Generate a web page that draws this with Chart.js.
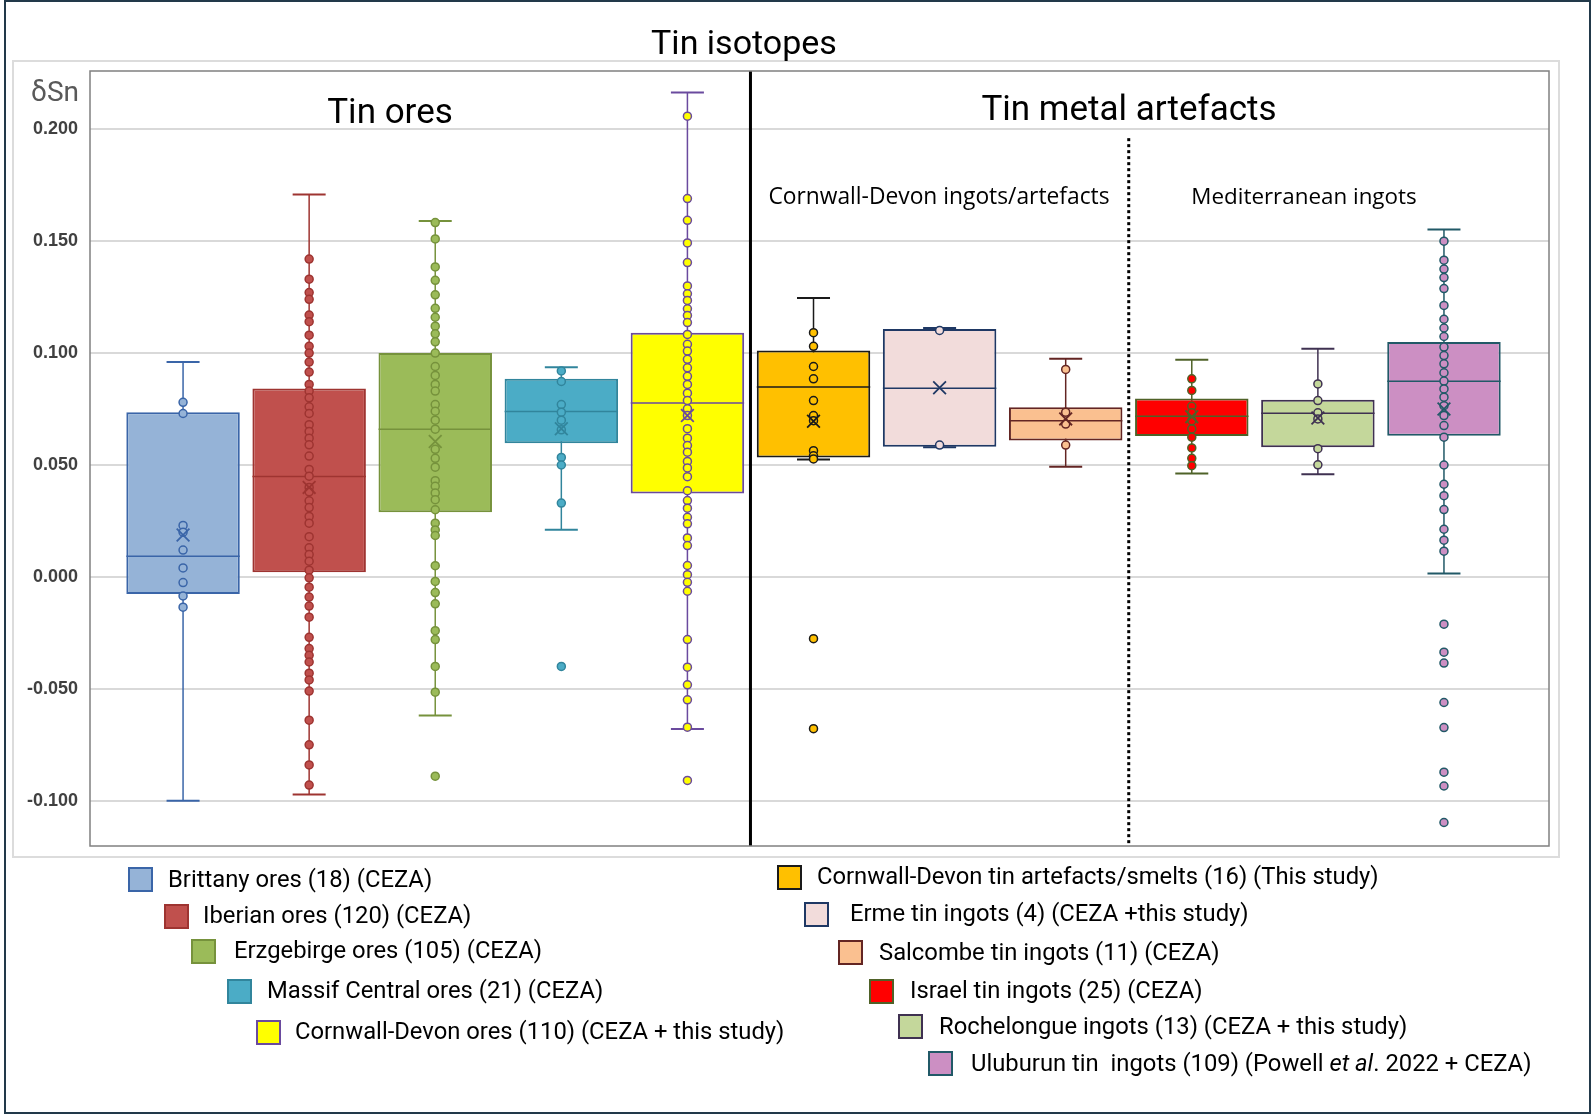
<!DOCTYPE html>
<html>
<head>
<meta charset="utf-8">
<title>Tin isotopes</title>
<script src="https://cdn.jsdelivr.net/npm/chart.js@4.4.1/dist/chart.umd.min.js"></script>
<style>
html, body { margin: 0; padding: 0; background: #fff; }
#page { position: relative; width: 1594px; height: 1115px; overflow: hidden; font-family: Roboto, sans-serif; color: #000; }
#outer { position: absolute; left: 4px; top: 0; width: 1587px; height: 1114px; box-sizing: border-box; border: 2px solid #22394a; pointer-events: none; }
#frame { position: absolute; left: 12px; top: 60px; width: 1548px; height: 798px; box-sizing: border-box; border: 2px solid #dcdcdc; }
#wrap { position: absolute; left: 0; top: 0; width: 1594px; height: 1115px; }
#chart { display: block; }
.lbl { position: absolute; transform: translate(-50%, -50%); white-space: nowrap; line-height: 1; }
.sq { position: absolute; width: 25px; height: 25px; box-sizing: border-box; border: 2px solid #000; }
.lt { position: absolute; transform: translateY(-50%); white-space: pre; line-height: 1; font-size: 23.8px; }
</style>
</head>
<body>
<div id="page">
  <div id="frame"></div>
  <div id="wrap"><canvas id="chart" width="1594" height="1115"></canvas></div>
  <div class="lbl" style="left:744px; top:42px; font-size:34px;">Tin isotopes</div>
  <div class="lbl" style="left:55px; top:92px; font-size:28px; color:#595959;">δSn</div>
  <div class="lbl" style="left:390px; top:111px; font-size:35px;">Tin ores</div>
  <div class="lbl" style="left:1129px; top:108px; font-size:35px;">Tin metal artefacts</div>
  <div class="lbl" style="left:939px; top:196px; font-size:22.8px; font-family:'Open Sans', sans-serif;">Cornwall-Devon ingots/artefacts</div>
  <div class="lbl" style="left:1304px; top:196px; font-size:22.4px; font-family:'Open Sans', sans-serif;">Mediterranean ingots</div>
  <div id="legend"></div>
  <div id="outer"></div>
</div>
<script>
// categories, left to right
const categories = [
    'Brittany ores', 'Iberian ores', 'Erzgebirge ores', 'Massif Central ores', 'Cornwall-Devon ores',
    'Cornwall-Devon artefacts/smelts', 'Erme ingots', 'Salcombe ingots', 'Israel ingots',
    'Rochelongue ingots', 'Uluburun ingots'
];

const legendLabels = [
    'Brittany ores (18) (CEZA)',
    'Iberian ores (120) (CEZA)',
    'Erzgebirge ores (105) (CEZA)',
    'Massif Central ores (21) (CEZA)',
    'Cornwall-Devon ores (110) (CEZA + this study)',
    'Cornwall-Devon tin artefacts/smelts (16) (This study)',
    'Erme tin ingots (4) (CEZA +this study)',
    'Salcombe tin ingots (11) (CEZA)',
    'Israel tin ingots (25) (CEZA)',
    'Rochelongue ingots (13) (CEZA + this study)',
    'Uluburun tin  ingots (109) (Powell <i>et al</i>. 2022 + CEZA)'
];

// box statistics (δSn)
const whiskerHigh = [0.096, 0.1708, 0.159, 0.0937, 0.2164, 0.1246, 0.1112, 0.0975, 0.097, 0.1019, 0.1552];
const q3 = [0.0736, 0.0842, 0.100, 0.0885, 0.1091, 0.1012, 0.1107, 0.0758, 0.0797, 0.0792, 0.1049];
const median = [0.0092, 0.0449, 0.066, 0.0739, 0.0777, 0.0848, 0.0843, 0.0698, 0.0718, 0.0731, 0.0874];
const q1 = [-0.0076, 0.0021, 0.0289, 0.0597, 0.0373, 0.0534, 0.0582, 0.0609, 0.063, 0.0579, 0.0631];
const whiskerLow = [-0.100, -0.0972, -0.0619, 0.0211, -0.0679, 0.0524, 0.0579, 0.0492, 0.0462, 0.0459, 0.0015];
const mean = [0.0187, 0.040, 0.0605, 0.0662, 0.0721, 0.0695, 0.0845, 0.0706, 0.0716, 0.071, 0.075];

// individual samples that can be seen on the plot
const brittanyPts = [0.078, 0.073, 0.023, 0.020, 0.012, 0.004, -0.0025, -0.0085, -0.0135];
const iberianPts = [0.142, 0.133, 0.127, 0.124, 0.117, 0.114, 0.108, 0.103, 0.100, 0.096, 0.0915, 0.086, 0.083,
    0.080, 0.076, 0.073, 0.068, 0.065, 0.062, 0.059, 0.054, 0.048, 0.045, 0.040, 0.038, 0.034, 0.031, 0.027,
    0.024, 0.018, 0.013, 0.010, 0.007, 0.003, -0.0004, -0.0046, -0.009, -0.013, -0.018, -0.027, -0.032,
    -0.035, -0.038, -0.043, -0.046, -0.051, -0.064, -0.075, -0.084, -0.093];
const erzgebirgePts = [0.1583, 0.151, 0.1385, 0.1325, 0.126, 0.120, 0.116, 0.112, 0.1086, 0.105, 0.100, 0.094,
    0.090, 0.086, 0.083, 0.077, 0.074, 0.070, 0.066, 0.057, 0.053, 0.049, 0.043, 0.0405, 0.0375, 0.0345, 0.030,
    0.024, 0.021, 0.0185, 0.005, -0.002, -0.007, -0.012, -0.024, -0.028, -0.040, -0.0515, -0.089];
const massifPts = [0.092, 0.0873, 0.077, 0.0736, 0.070, 0.0657, 0.0534, 0.050, 0.033, -0.040];
const cornwallOrePts = [0.2058, 0.169, 0.1593, 0.1492, 0.1404, 0.130, 0.1265, 0.1235, 0.1198, 0.1168, 0.1136,
    0.1083, 0.1039, 0.1009, 0.0972, 0.0934, 0.0896, 0.086, 0.0821, 0.0788, 0.0751, 0.0721, 0.0662, 0.062, 0.0587,
    0.0557, 0.0516, 0.0487, 0.0448, 0.0385, 0.0341, 0.0307, 0.0266, 0.0237, 0.0174, 0.014, 0.0051, 0.001,
    -0.0024, -0.0064, -0.028, -0.0403, -0.0482, -0.0549, -0.0671, -0.0909];
const cornwallArtPts = [0.1091, 0.103, 0.094, 0.0885, 0.0788, 0.0721, 0.0698, 0.0564, 0.0541, 0.0527, -0.0276, -0.0678];
const ermePts = [0.1101, 0.0589];
const salcombePts = [0.0927, 0.0736, 0.0683, 0.0589];
const israelPts = [0.0885, 0.0833, 0.0762, 0.0733, 0.0698, 0.0661, 0.0624, 0.0576, 0.053, 0.0497];
const rochelonguePts = [0.0862, 0.0788, 0.0733, 0.0706, 0.0573, 0.0501];
const uluburunPts = [0.150, 0.1415, 0.1375, 0.1337, 0.1288, 0.1213, 0.1151, 0.1112, 0.1074, 0.1027, 0.0989,
    0.0952, 0.0912, 0.0875, 0.084, 0.0803, 0.0765, 0.0721, 0.0676, 0.0624, 0.050, 0.0414, 0.0363, 0.0301,
    0.0213, 0.0164, 0.0115, -0.0211, -0.0336, -0.0385, -0.0561, -0.0673, -0.0872, -0.0934, -0.1097];

const samples = [brittanyPts, iberianPts, erzgebirgePts, massifPts, cornwallOrePts, cornwallArtPts,
    ermePts, salcombePts, israelPts, rochelonguePts, uluburunPts];

const yTicks = [-0.100, -0.050, 0.000, 0.050, 0.100, 0.150, 0.200];
const yMin = -0.1202;
const yMax = 0.226;

// group separators on the category axis
const groupSplit = 5.5;
const subgroupSplit = 8.5;
const subgroupTop = 0.196;

// colours
const boxFill = ['#95B3D7', '#C0504D', '#9BBB59', '#4BACC6', '#FFFF00', '#FFC000', '#F2DCDB', '#FAC090', '#FF0000', '#C4D79B', '#CC8FC3'];
const boxLine = ['#3A65A8', '#9E3431', '#76923C', '#31859C', '#6A4A9E', '#1A1A1A', '#1F3864', '#632523', '#4F6228', '#3F3151', '#215967'];

const xs = categories.map((c, i) => i + 1);

const datasets = [];

datasets.push({
    type: 'line',
    data: [{ x: groupSplit, y: yMax }, { x: groupSplit, y: yMin }],
    borderColor: '#000', borderWidth: 3, pointRadius: 0, order: 9
});
datasets.push({
    type: 'line',
    data: [{ x: subgroupSplit, y: subgroupTop }, { x: subgroupSplit, y: yMin }],
    borderColor: '#000', borderWidth: 3, borderDash: [3, 3], pointRadius: 0, order: 9
});

xs.forEach((x, i) => {
    datasets.push({
        type: 'line',
        data: [{ x, y: whiskerLow[i] }, { x, y: whiskerHigh[i] }],
        borderColor: boxLine[i], borderWidth: 1.5, pointRadius: 0, order: 8
    });
});

datasets.push({
    type: 'bar',
    data: xs.map((x, i) => ({ x, y: [q1[i], q3[i]] })),
    backgroundColor: boxFill,
    borderColor: boxLine,
    borderWidth: 2,
    borderSkipped: false,
    categoryPercentage: 0.9,
    barPercentage: 1,
    order: 7
});

datasets.push({
    type: 'scatter',
    data: xs.map((x, i) => ({ x, y: median[i] })),
    pointStyle: 'line', pointRadius: 56.7, pointBorderWidth: 1.5,
    pointBorderColor: boxLine, order: 6
});

datasets.push({
    type: 'scatter',
    data: xs.map((x, i) => ({ x, y: whiskerHigh[i] })).concat(xs.map((x, i) => ({ x, y: whiskerLow[i] }))),
    pointStyle: 'line', pointRadius: 16.5, pointBorderWidth: 2,
    pointBorderColor: boxLine.concat(boxLine), order: 6
});

samples.forEach((vals, i) => {
    datasets.push({
        type: 'scatter',
        data: vals.map(v => ({ x: xs[i], y: v })),
        pointRadius: 4, pointBorderWidth: 1.5,
        pointBackgroundColor: boxFill[i], pointBorderColor: boxLine[i], order: 5
    });
});

datasets.push({
    type: 'scatter',
    data: xs.map((x, i) => ({ x, y: mean[i] })),
    pointStyle: 'crossRot', pointRadius: 9, pointBorderWidth: 1.8,
    pointBorderColor: boxLine, order: 4
});

const plotFrame = {
    id: 'plotFrame',
    afterDatasetsDraw(chart) {
        const { ctx, chartArea: a } = chart;
        ctx.save();
        ctx.strokeStyle = '#808080';
        ctx.lineWidth = 1.5;
        ctx.strokeRect(a.left, a.top, a.right - a.left, a.bottom - a.top);
        ctx.restore();
    }
};

new Chart(document.getElementById('chart'), {
    type: 'bar',
    data: { datasets },
    plugins: [plotFrame],
    options: {
        responsive: false,
        devicePixelRatio: 1,
        animation: false,
        events: [],
        layout: { autoPadding: false, padding: { left: 12, top: 71, right: 45, bottom: 269 } },
        plugins: { legend: { display: false }, tooltip: { enabled: false }, title: { display: false } },
        scales: {
            x: {
                type: 'linear', min: 0.262, max: 11.833, offset: false,
                display: false, grid: { offset: false, display: false }
            },
            y: {
                type: 'linear', min: yMin, max: yMax,
                afterFit: scale => { scale.width = 78; },
                afterBuildTicks: scale => { scale.ticks = yTicks.map(v => ({ value: v })); },
                border: { display: false },
                grid: { color: '#d9d9d9', lineWidth: 2, drawTicks: false },
                ticks: {
                    padding: 12,
                    color: '#404040',
                    font: { family: 'Liberation Sans', size: 18, weight: 'bold' },
                    callback: v => v.toFixed(3)
                }
            }
        }
    }
});

// staircase legend as in the original figure
const legendSquares = [[128, 867], [164, 904], [191, 939], [227, 979], [256, 1020],
    [777, 865], [804, 902], [838, 940], [869, 979], [898, 1014], [928, 1051]];
const legendText = [[168, 880], [203, 916], [234, 951], [267, 991], [295, 1032],
    [817, 877], [850, 914], [879, 953], [910, 991], [939, 1027], [971, 1064]];

const legend = document.getElementById('legend');
legendLabels.forEach((label, i) => {
    const sq = document.createElement('div');
    sq.className = 'sq';
    sq.style.left = legendSquares[i][0] + 'px';
    sq.style.top = legendSquares[i][1] + 'px';
    sq.style.background = boxFill[i];
    sq.style.borderColor = boxLine[i];
    legend.appendChild(sq);

    const tx = document.createElement('div');
    tx.className = 'lt';
    tx.style.left = legendText[i][0] + 'px';
    tx.style.top = legendText[i][1] + 'px';
    tx.innerHTML = label;
    legend.appendChild(tx);
});
</script>
</body>
</html>
